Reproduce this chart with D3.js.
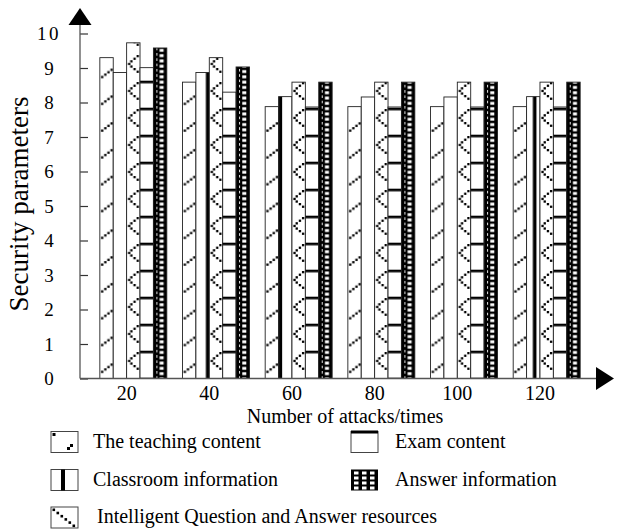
<!DOCTYPE html>
<html><head><meta charset="utf-8">
<script src="https://cdn.jsdelivr.net/npm/d3@7"></script>
<style>body{margin:0;background:#fff} svg{display:block}</style>
</head><body>
<svg id="chart" width="620" height="530"></svg>
<script>
// ---- data ----
const categories = ["20", "40", "60", "80", "100", "120"];
const seriesKeys = ["teaching", "classroom", "iqa", "exam", "answer"];
const seriesNames = {
  teaching: "The teaching content",
  classroom: "Classroom information",
  iqa: "Intelligent Question and Answer resources",
  exam: "Exam content",
  answer: "Answer information"
};
const teaching  = [9.30, 8.59, 7.88, 7.88, 7.88, 7.88];
const classroom = [8.87, 8.87, 8.17, 8.16, 8.16, 8.17];
const iqa       = [9.73, 9.30, 8.59, 8.59, 8.59, 8.59];
const exam      = [9.01, 8.30, 7.87, 7.87, 7.87, 7.87];
const answer    = [9.58, 9.03, 8.59, 8.59, 8.59, 8.59];
const yTicks = [0, 1, 2, 3, 4, 5, 6, 7, 8, 9, 10];
const xTitle = "Number of attacks/times";
const yTitle = "Security parameters";

const values = { teaching, classroom, iqa, exam, answer };

// ---- setup ----
const FONT = '"Liberation Serif","Times New Roman",serif';
const svg = d3.select("#chart");
const x0 = d3.scaleBand().domain(categories).range([80, 600]).paddingInner(0.19).paddingOuter(0.24);
const x1 = d3.scaleBand().domain(seriesKeys).range([0, x0.bandwidth()]).padding(0);
const y = d3.scaleLinear().domain([0, 10]).range([378.5, 33.5]);
const bw = x1.bandwidth();
const step = x0.step();
const baseX = k => x0(categories[0]) + x1(k);

// ---- patterns ----
const defs = svg.append("defs");
function pat(id, x, yy, w, h) {
  return defs.append("pattern").attr("id", id).attr("patternUnits", "userSpaceOnUse")
    .attr("x", x).attr("y", yy).attr("width", w).attr("height", h);
}
// teaching: dotted "/" dashes
let p = pat("pat-teaching", baseX("teaching"), 0, step, 26.8);
p.append("rect").attr("width", step).attr("height", 26.8).attr("fill", "#fff");
[0, 1, 2, 3].forEach(i => p.append("rect")
  .attr("x", 1.2 + i * (bw - 4) / 3).attr("y", 22.3 - i * 2.4)
  .attr("width", 2.3).attr("height", 2.3).attr("fill", "#000"));
// classroom: thick vertical line
p = pat("pat-classroom", baseX("classroom"), 0, 36.33, 10);
p.append("rect").attr("width", 36.33).attr("height", 10).attr("fill", "#fff");
p.append("rect").attr("x", 20).attr("width", 3.6).attr("height", 10).attr("fill", "#000");
// iqa: dotted "<" zigzag
p = pat("pat-iqa", baseX("iqa"), 0, step, 27);
p.append("rect").attr("width", step).attr("height", 27).attr("fill", "#fff");
[[bw - 3.4, 1], [bw - 6.6, 3.6], [bw - 9.8, 6.2], [1.4, 8.8], [bw - 9.8, 11.4], [bw - 6.6, 14], [bw - 3.4, 16.6]]
  .forEach(([a, b]) => p.append("rect").attr("x", a).attr("y", b)
    .attr("width", 2.3).attr("height", 2.3).attr("fill", "#000"));
// exam: thick horizontal lines
p = pat("pat-exam", baseX("exam"), -0.3, step, 27);
p.append("rect").attr("width", step).attr("height", 27).attr("fill", "#fff");
p.append("rect").attr("width", step).attr("height", 2.6).attr("fill", "#000");
// answer: black with white squares
p = pat("pat-answer", baseX("answer"), 0, step, 5.3);
p.append("rect").attr("width", step).attr("height", 5.3).attr("fill", "#000");
p.append("rect").attr("x", 6.2).attr("y", 1.2).attr("width", 4).attr("height", 2.9).attr("fill", "#fff");
p.append("rect").attr("x", 3).attr("y", 0).attr("width", 0.9).attr("height", 2.6).attr("fill", "#fff");

// ---- bars ----
const groups = svg.append("g").selectAll("g").data(categories).join("g");
groups.selectAll("rect")
  .data((c, i) => seriesKeys.map(k => ({ c, k, v: values[k][i] })))
  .join("rect")
  .attr("x", d => x0(d.c) + x1(d.k))
  .attr("y", d => y(d.v))
  .attr("width", bw)
  .attr("height", d => y(0) - y(d.v))
  .attr("fill", d => `url(#pat-${d.k})`)
  .attr("stroke", "#222").attr("stroke-width", 0.9);

// ---- y axis ----
const yAxisG = svg.append("g").attr("transform", "translate(80,0)")
  .call(d3.axisLeft(y).tickValues(yTicks).tickSize(-8).tickPadding(31).tickFormat(d => String(d)));
yAxisG.attr("font-family", FONT);
yAxisG.select(".domain").remove();
yAxisG.selectAll(".tick line").attr("stroke", "#333").attr("stroke-width", 1.2);
yAxisG.selectAll(".tick text")
  .attr("text-anchor", "middle").attr("x", -31)
  .attr("font-family", FONT).attr("font-size", 19).attr("fill", "#000")
  .attr("letter-spacing", d => d >= 10 ? 2.5 : 0);

svg.append("line").attr("x1", 80).attr("x2", 80).attr("y1", y(0)).attr("y2", y(10) - 9)
  .attr("stroke", "#555").attr("stroke-width", 1.3);
svg.append("path")
  .attr("d", `M80,${y(10) - 25.5} L91.5,${y(10) - 8.5} L68.5,${y(10) - 8.5} Z`)
  .attr("fill", "#000");

// ---- x axis ----
const xAxisG = svg.append("g").attr("transform", `translate(0,${y(0)})`)
  .call(d3.axisBottom(x0).tickSize(0));
xAxisG.attr("font-family", FONT);
xAxisG.select(".domain").remove();
xAxisG.selectAll(".tick").attr("transform", d => `translate(${x0(d) + x1("iqa")},0)`);
xAxisG.selectAll(".tick text")
  .attr("y", 21.5).attr("dy", 0)
  .attr("font-family", FONT).attr("font-size", 20).attr("fill", "#000");

svg.append("line").attr("x1", 80).attr("x2", 597).attr("y1", y(0)).attr("y2", y(0))
  .attr("stroke", "#555").attr("stroke-width", 1.3);
svg.append("path")
  .attr("d", `M614,${y(0)} L596,${y(0) - 11.5} L596,${y(0) + 11.5} Z`)
  .attr("fill", "#000");

// ---- titles ----
svg.append("text").attr("x", 345).attr("y", 423).attr("text-anchor", "middle")
  .attr("font-family", FONT).attr("font-size", 20).text(xTitle);
svg.append("text").attr("transform", "translate(28,204) rotate(-90)").attr("text-anchor", "middle")
  .attr("font-family", FONT).attr("font-size", 27).text(yTitle);

// ---- legend ----
const legendItems = [
  { k: "teaching", sx: 51, sy: 431.5, tx: 93, ty: 448 },
  { k: "exam", sx: 351, sy: 431.5, tx: 395, ty: 448 },
  { k: "classroom", sx: 51, sy: 469.5, tx: 93, ty: 486 },
  { k: "answer", sx: 351, sy: 469.5, tx: 395, ty: 486 },
  { k: "iqa", sx: 51, sy: 507, tx: 97, ty: 523 }
];
const SW = 27, SH = 21;
legendItems.forEach(it => {
  const g = svg.append("g").attr("transform", `translate(${it.sx},${it.sy})`);
  if (it.k === "answer") {
    g.append("rect").attr("width", SW).attr("height", SH).attr("fill", "#000");
    for (let c = 0; c < 3; c++) for (let r = 0; r < 4; r++)
      g.append("rect").attr("x", 3 + c * 8).attr("y", 2 + r * 5).attr("width", 4.5).attr("height", 3).attr("fill", "#fff");
  } else {
    g.append("rect").attr("width", SW).attr("height", SH).attr("fill", "#fff")
      .attr("stroke", "#444").attr("stroke-width", 1);
    if (it.k === "teaching") {
      g.append("rect").attr("x", 1.5).attr("y", 1.5).attr("width", 3).attr("height", 3).attr("fill", "#000");
      g.append("rect").attr("x", 16).attr("y", 15.5).attr("width", 3).attr("height", 3).attr("fill", "#000");
      g.append("rect").attr("x", 19).attr("y", 12.5).attr("width", 3).attr("height", 3).attr("fill", "#000");
    } else if (it.k === "exam") {
      g.append("rect").attr("x", 0).attr("y", -1).attr("width", SW).attr("height", 3).attr("fill", "#000");
    } else if (it.k === "classroom") {
      g.append("rect").attr("x", 10).attr("y", 0).attr("width", 4).attr("height", SH).attr("fill", "#000");
    } else if (it.k === "iqa") {
      [0, 1, 2, 3, 4, 5].forEach(i => g.append("rect")
        .attr("x", 1.5 + i * 4).attr("y", 1.5 + i * 3.2).attr("width", 2.6).attr("height", 2.6).attr("fill", "#000"));
    }
  }
  svg.append("text").attr("x", it.tx).attr("y", it.ty)
    .attr("font-family", FONT).attr("font-size", 20).attr("fill", "#000")
    .text(seriesNames[it.k]);
});
</script>
</body></html>
